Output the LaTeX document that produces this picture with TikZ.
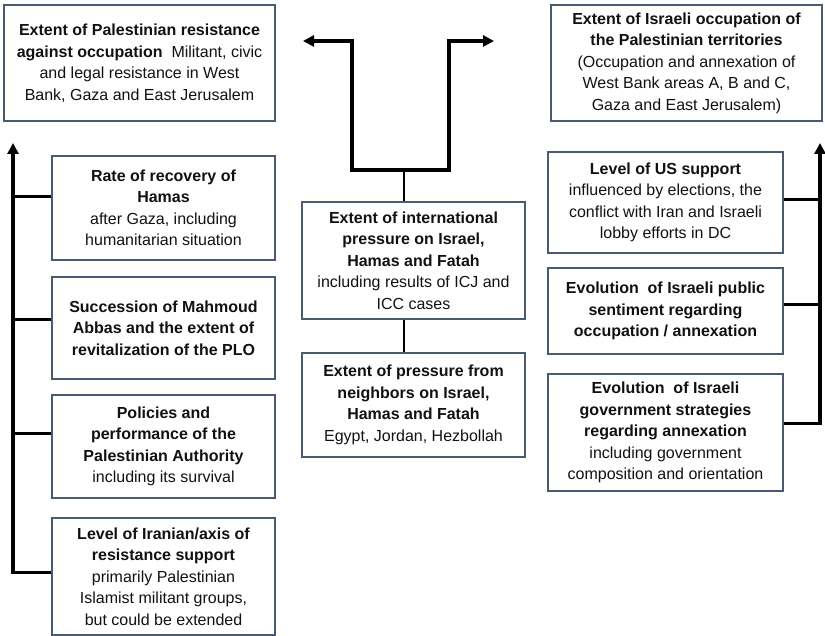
\documentclass[tikz,border=0pt]{standalone}
\usepackage{fontspec}
\setmainfont{Liberation Sans}
\usetikzlibrary{arrows.meta,calc}
\definecolor{boxline}{HTML}{4A5A70}
\definecolor{txt}{HTML}{111111}
\tikzset{
  box/.style={draw=boxline,line width=1.2pt,align=center,text=txt,inner sep=0pt,
    font=\fontsize{16}{21.5}\selectfont},
  bigarrow/.style={line width=3.8pt,-{Triangle[length=11pt,width=11pt]}},
  bothsides/.style={line width=3.8pt,{Triangle[length=11pt,width=11pt]}-{Triangle[length=11pt,width=11pt]}},
  conn/.style={line width=3pt},
  stem/.style={line width=2.2pt}
}
\newcommand{\boxat}[7]{% name, x1, y1, x2, y2, text
  \node[box,minimum width={#4-#2},minimum height={#5-#3}] (#1) at ({(#2+#4)/2},{(#3+#5)/2}) {#6};}
\begin{document}
\begin{tikzpicture}[x=1pt,y=-1pt]
\useasboundingbox (0,0) rectangle (825,636);
% top boxes
\boxat{TL}{4}{5}{275}{121}{\textbf{Extent of Palestinian resistance}\\\textbf{against occupation}\ \ Militant, civic\\and legal resistance in West\\Bank, Gaza and East Jerusalem}{}
\boxat{TR}{551}{5}{822}{121}{\textbf{Extent of Israeli occupation of}\\\textbf{the Palestinian territories}\\(Occupation and annexation of\\West Bank areas A, B and C,\\Gaza and East Jerusalem)}{}
% left boxes
\boxat{L1}{52}{156}{275}{260}{\textbf{Rate of recovery of}\\\textbf{Hamas}\\after Gaza, including\\humanitarian situation}{}
\boxat{L2}{52}{277}{275}{379}{\textbf{Succession of Mahmoud}\\\textbf{Abbas and the extent of}\\\textbf{revitalization of the PLO}}{}
\boxat{L3}{52}{395}{275}{498}{\textbf{Policies and}\\\textbf{performance of the}\\\textbf{Palestinian Authority}\\including its survival}{}
\boxat{L4}{52}{518}{275}{635}{\textbf{Level of Iranian/axis of}\\\textbf{resistance support}\\primarily Palestinian\\Islamist militant groups,\\but could be extended}{}
% center boxes
\boxat{C1}{302}{202}{525}{319}{\textbf{Extent of international}\\\textbf{pressure on Israel,}\\\textbf{Hamas and Fatah}\\including results of ICJ and\\ICC cases}{}
\boxat{C2}{302}{353}{525}{457}{\textbf{Extent of pressure from}\\\textbf{neighbors on Israel,}\\\textbf{Hamas and Fatah}\\Egypt, Jordan, Hezbollah}{}
% right boxes
\boxat{R1}{548}{152}{783}{253}{\textbf{Level of US support}\\influenced by elections, the\\conflict with Iran and Israeli\\lobby efforts in DC}{}
\boxat{R2}{548}{268}{783}{354}{\textbf{Evolution\ \ of Israeli public}\\\textbf{sentiment regarding}\\\textbf{occupation / annexation}}{}
\boxat{R3}{548}{374}{783}{491}{\textbf{Evolution\ \ of Israeli}\\\textbf{government strategies}\\\textbf{regarding annexation}\\including government\\composition and orientation}{}
% coordinates
\coordinate (ltip) at (13,143);
\coordinate (rtip) at (820,143);
\coordinate (junc) at (404,170);
\coordinate (bl) at (352,170);
\coordinate (br) at (449,170);
\coordinate (tl) at (352,41);
\coordinate (tr) at (449,41);
\coordinate (atl) at (303,41);
\coordinate (atr) at (494,41);
% left spine
\draw[bigarrow] ([yshift=4pt]L4.west) -| (ltip);
\draw[conn] ([yshift=11pt]L1.west) -- ([yshift=11pt]L1.west -| ltip);
\draw[conn] ([yshift=8pt]L2.west) -- ([yshift=8pt]L2.west -| ltip);
\draw[conn] ([yshift=13pt]L3.west) -- ([yshift=13pt]L3.west -| ltip);
% right spine
\draw[bigarrow] ([yshift=9pt]R3.east) -| (rtip);
\draw[conn] ([yshift=3pt]R1.east) -- ([yshift=3pt]R1.east -| rtip);
\draw[conn] ([yshift=6pt]R2.east) -- ([yshift=6pt]R2.east -| rtip);
% center
\draw[bothsides] (atl) -- (tl) -- (bl) -- (br) -- (tr) -- (atr);
\draw[stem] (C1.north -| junc) -- (junc);
\draw[stem] (C1.south -| junc) -- (C2.north -| junc);
\end{tikzpicture}
\end{document}
